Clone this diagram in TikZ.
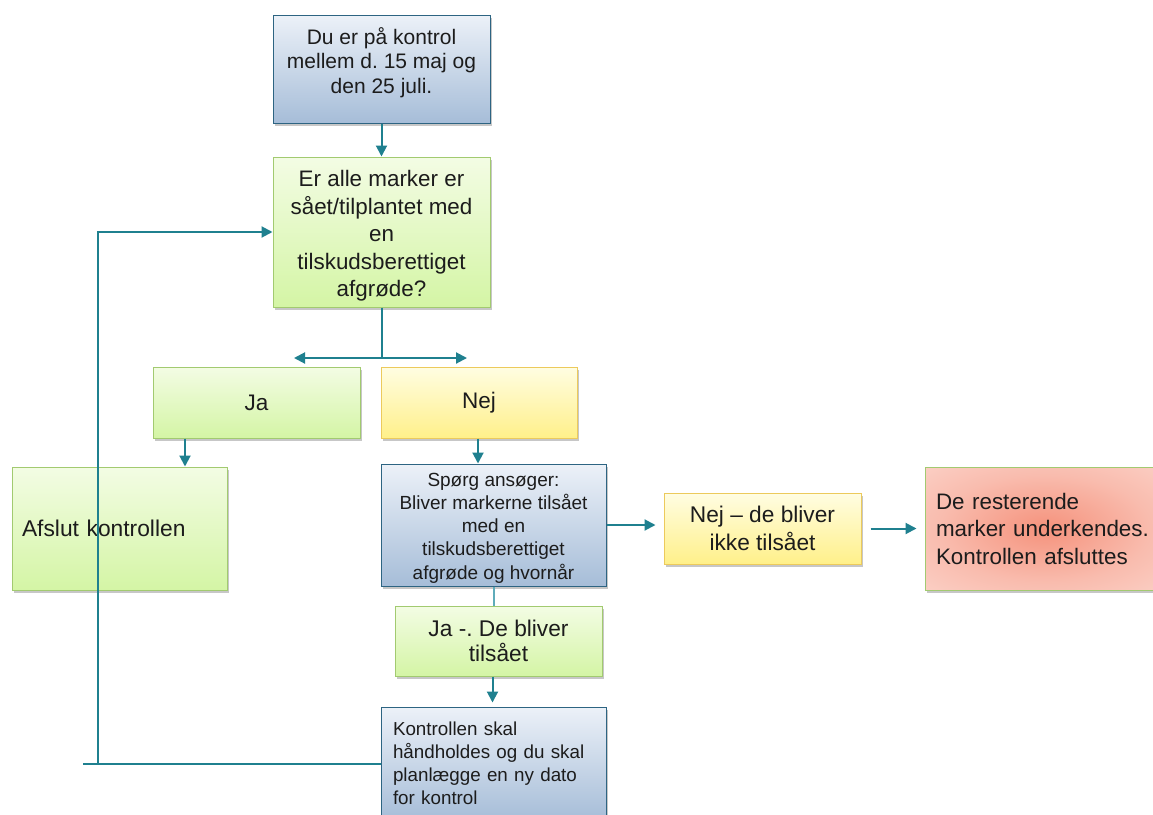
\documentclass[tikz,border=0pt]{standalone}
\usepackage{fontspec}
\setmainfont{Liberation Sans}
\usetikzlibrary{arrows.meta,shadows}
\frenchspacing
\definecolor{lineteal}{RGB}{31,128,143}
\definecolor{lightteal}{RGB}{95,172,186}
\definecolor{blueborder}{RGB}{45,100,130}
\definecolor{bluetop}{RGB}{236,241,248}
\definecolor{bluebot}{RGB}{166,189,216}
\definecolor{greenborder}{RGB}{162,202,112}
\definecolor{greentop}{RGB}{243,252,228}
\definecolor{greenbot}{RGB}{212,245,165}
\definecolor{yellowborder}{RGB}{236,202,92}
\definecolor{yellowtop}{RGB}{255,253,226}
\definecolor{yellowbot}{RGB}{255,240,138}
\definecolor{redin}{RGB}{245,146,124}
\definecolor{redmid}{RGB}{249,188,174}
\definecolor{redout}{RGB}{253,226,219}
\definecolor{txt}{RGB}{28,28,28}
\pgfdeclareradialshading{redglow}{\pgfpoint{0bp}{0bp}}{color(0bp)=(redin); color(22bp)=(redmid); color(50bp)=(redout)}
\newcommand{\vshifted}[2]{\raisebox{#1}[\height][\depth]{\begin{tabular}{@{}c@{}}#2\end{tabular}}}
\begin{document}
\begin{tikzpicture}[x=1pt,y=-1pt,
  box/.style={rectangle, inner sep=0pt, line width=1pt, align=center, text=txt,
    drop shadow={shadow xshift=1.5pt, shadow yshift=-2.5pt, fill=black, opacity=0.22}},
  bluebox/.style={box, draw=blueborder, top color=bluetop, bottom color=bluebot},
  greenbox/.style={box, draw=greenborder, top color=greentop, bottom color=greenbot},
  yellowbox/.style={box, draw=yellowborder, top color=yellowtop, bottom color=yellowbot},
  redbox/.style={box, draw=greenborder, shading=redglow},
  conn/.style={draw=lineteal, line width=2pt},
  arr/.style={conn, -{Triangle[length=11pt,width=11pt]}},
  dblarr/.style={conn, {Triangle[length=11pt,width=11pt]}-{Triangle[length=11pt,width=11pt]}}
]
\useasboundingbox (0,0) rectangle (1153,814);
\fill[white] (0,0) rectangle (1153,814);
\clip (0,0) rectangle (1153,814);

\node[bluebox, minimum width=217pt, minimum height=108pt, font=\fontsize{21}{24.5}\selectfont]
  (top) at (381.5,69) {\vshifted{5pt}{Du er på kontrol\\mellem d. 15 maj og\\den 25 juli.}};
\node[greenbox, minimum width=217pt, minimum height=150pt, font=\fontsize{22.4}{27.5}\selectfont]
  (q) at (381.5,232) {\vshifted{-4pt}{Er alle marker er\\sået/tilplantet med\\en\\tilskudsberettiget\\afgrøde?}};
\node[greenbox, minimum width=207pt, minimum height=71pt, font=\fontsize{22.5}{27}\selectfont]
  (ja) at (256.5,402.5) {Ja};
\node[yellowbox, minimum width=196pt, minimum height=71pt, font=\fontsize{22.5}{27}\selectfont]
  (nej) at (479,402.5) {Nej};
\node[greenbox, minimum width=215pt, minimum height=123pt, text width=195pt, align=left,
  font=\fontsize{22.8}{27}\selectfont]
  (afslut) at (119.5,528.5) {Afslut kontrollen};
\node[bluebox, minimum width=225pt, minimum height=122pt, font=\fontsize{19}{23.3}\selectfont]
  (sporg) at (493.5,525) {\vshifted{-3pt}{Spørg ansøger:\\Bliver markerne tilsået\\med en\\tilskudsberettiget\\afgrøde og hvornår}};
\node[yellowbox, minimum width=197pt, minimum height=71pt, font=\fontsize{22.7}{28}\selectfont]
  (nejde) at (762.5,528.5) {Nej – de bliver\\ikke tilsået};
\node[redbox, minimum width=240pt, minimum height=123pt, text width=218pt, align=left,
  font=\fontsize{22.4}{27.5}\selectfont]
  (red) at (1045,528.5) {De resterende\\marker underkendes.\\Kontrollen afsluttes};
\node[greenbox, minimum width=207pt, minimum height=70pt, font=\fontsize{22.7}{25.5}\selectfont]
  (jade) at (498.5,641) {Ja -. De bliver\\tilsået};
\node[bluebox, minimum width=225pt, minimum height=113pt, text width=201pt, align=left,
  font=\fontsize{18.8}{23}\selectfont]
  (kontrol) at (493.5,763.5) {Kontrollen skal\\håndholdes og du skal\\planlægge en ny dato\\for kontrol};

% connectors
\coordinate (split) at (381.5,358);
\coordinate (sl) at (294,358);
\coordinate (sr) at (467,358);
\coordinate (lend) at (83,763.5);
\coordinate (lc) at (98,763.5);
\coordinate (lt) at (98,232);

\draw[arr] (top.south) -- (q.north);
\draw[conn] (q.south) -- (split);
\draw[dblarr] (sl) -- (sr);
\draw[arr] ([xshift=-71.5pt]ja.south) -- ([xshift=-71.5pt]ja.south |- afslut.north);
\draw[arr] ([xshift=-1pt]nej.south) -- ([xshift=-1pt]nej.south |- sporg.north);
\draw[arr, shorten >=8pt] (sporg.east) -- (sporg.east -| nejde.west);
\draw[arr, shorten <=9pt, shorten >=8pt] (nejde.east) -- (nejde.east -| red.west);
\draw[draw=lightteal, line width=2pt] (sporg.south) -- (sporg.south |- jade.north);
\draw[arr, shorten >=4pt] ([xshift=-6pt]jade.south) -- ([xshift=-6pt]jade.south |- kontrol.north);
\draw[conn] (kontrol.west) -- (lend);
\draw[arr] (lc) -- (lt) -- (q.west);
\end{tikzpicture}
\end{document}
